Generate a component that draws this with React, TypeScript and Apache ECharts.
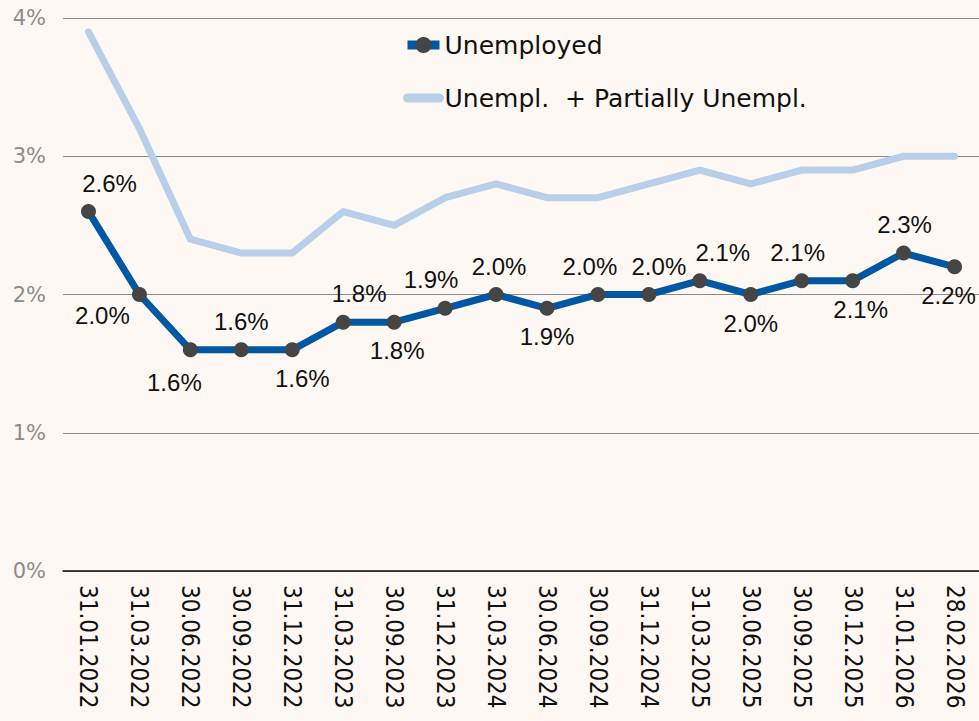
import React, { useEffect, useRef } from "react";
import * as echarts from "echarts";

const categories = [
  "31.01.2022", "31.03.2022", "30.06.2022", "30.09.2022", "31.12.2022", "31.03.2023",
  "30.09.2023", "31.12.2023", "31.03.2024", "30.06.2024", "30.09.2024", "31.12.2024",
  "31.03.2025", "30.06.2025", "30.09.2025", "30.12.2025", "31.01.2026", "28.02.2026",
];
const unemployed = [2.6, 2.0, 1.6, 1.6, 1.6, 1.8, 1.8, 1.9, 2.0, 1.9, 2.0, 2.0, 2.1, 2.0, 2.1, 2.1, 2.3, 2.2];
const partial = [3.9, 3.2, 2.4, 2.3, 2.3, 2.6, 2.5, 2.7, 2.8, 2.7, 2.7, 2.8, 2.9, 2.8, 2.9, 2.9, 3.0, 3.0];
const labelPos = ["top", "bottom", "bottom", "top", "bottom", "top", "bottom", "top", "top", "bottom", "top", "top", "top", "bottom", "top", "bottom", "top", "bottom"];
const labelDx = [21, -37, -16, 0, 10, 16, 3, -14, 3, 0, -8, 10, 23, 0, -4, 8, 1, -6];
const labelDy = [0, -8, 4, 0, 0, 0, 0, 0, 0, 0, 0, 0, 0, 0, 0, 0, 0, 0];
const yTicks = [0, 1, 2, 3, 4];
const seriesNames = ["Unemployed", "Unempl.  + Partially Unempl."];

const FONT = "'Liberation Sans', Arial, sans-serif";
const COND = "'DejaVu Sans Condensed', 'Liberation Sans', sans-serif";
const WIDE = "'DejaVu Sans', Verdana, sans-serif";

export default function App() {
  const ref = useRef<HTMLDivElement>(null);
  useEffect(() => {
    if (!ref.current) return;
    const chart = echarts.init(ref.current, null, { renderer: "svg" });
    chart.setOption({
      animation: false,
      backgroundColor: "#fdf8f4",
      textStyle: { fontFamily: FONT },
      grid: { left: 63, right: -1, top: 18, bottom: 150, containLabel: false, outerBoundsMode: "none" },
      legend: {
        orient: "vertical",
        left: 398,
        top: 25,
        itemGap: 23,
        itemWidth: 32,
        itemHeight: 20,
        textStyle: { fontSize: 25, color: "#111", fontFamily: WIDE, lineHeight: 30 },
        data: [
          {
            name: seriesNames[0],
            lineStyle: { width: 9, color: "#0057a3" },
            itemStyle: { color: "#454545" },
          },
          {
            name: seriesNames[1],
            lineStyle: { width: 9, color: "#b7cfe8" },
            itemStyle: { color: "#b7cfe8", opacity: 0 },
          },
        ],
      },
      xAxis: {
        type: "category",
        data: categories,
        boundaryGap: true,
        axisLine: { show: true, lineStyle: { color: "#111", width: 1.5 } },
        axisTick: { show: false },
        axisLabel: {
          rotate: -90,
          interval: 0,
          margin: 14,
          fontSize: 24,
          color: "#111",
          fontFamily: COND,
        },
      },
      yAxis: {
        type: "value",
        min: yTicks[0],
        max: yTicks[yTicks.length - 1],
        interval: 1,
        axisLine: { show: false },
        axisTick: { show: false },
        splitLine: { lineStyle: { color: "#8a8a8a", width: 1 } },
        axisLabel: {
          formatter: (v: number) => v + "%",
          fontSize: 21,
          color: "#8c8c8c",
          margin: 17,
          fontFamily: WIDE,
        },
      },
      series: [
        {
          name: seriesNames[1],
          type: "line",
          data: partial,
          symbol: "none",
          lineStyle: { color: "#b7cfe8", width: 7, cap: "round", join: "round" },
          itemStyle: { color: "#b7cfe8" },
          z: 1,
        },
        {
          name: seriesNames[0],
          type: "line",
          data: unemployed.map((v, i) => ({
            value: v,
            label: {
              position: labelPos[i],
              offset: [labelDx[i], labelDy[i]],
            },
          })),
          symbol: "circle",
          symbolSize: 15,
          lineStyle: { color: "#0057a3", width: 7 },
          itemStyle: { color: "#454545", borderWidth: 0 },
          label: {
            show: true,
            distance: 9,
            fontSize: 24,
            color: "#111",
            fontFamily: FONT,
            formatter: (p: any) => p.value.toFixed(1) + "%",
          },
          z: 3,
        },
      ],
    });
    return () => chart.dispose();
  }, []);
  return (
    <div
      ref={ref}
      style={{ position: "absolute", left: 0, top: 0, width: 979, height: 721 }}
    />
  );
}
